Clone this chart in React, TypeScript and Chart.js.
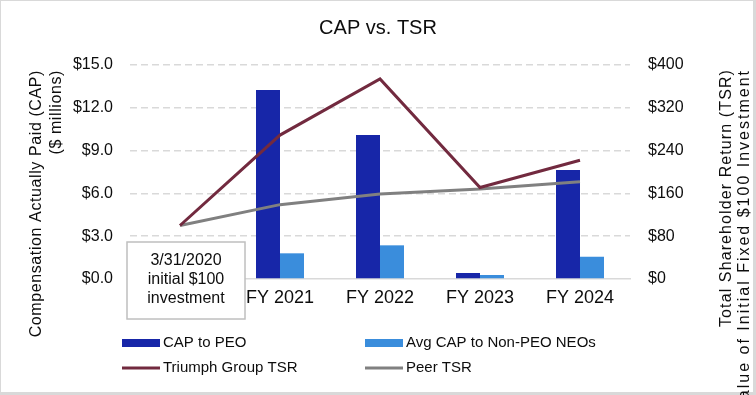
import React, { useEffect, useRef } from "react";
import { Chart, registerables } from "chart.js";

Chart.register(...registerables);

const chartTitle = "CAP vs. TSR";
const categories = ["3/31/2020", "FY 2021", "FY 2022", "FY 2023", "FY 2024"];
const baseLabelLines = ["3/31/2020", "initial $100", "investment"];
const capToPeo = [null, 13.25, 10.1, 0.42, 7.64];
const avgCapNonPeo = [null, 1.8, 2.36, 0.28, 1.56];
const triumphTsr = [100, 269, 374, 171, 222];
const peerTsr = [100, 139, 159, 168, 182];
const leftTitle = ["Compensation Actually Paid (CAP)", "($ millions)"];
const rightTitle = ["Total Shareholder Return (TSR)", "Value of Initial Fixed $100 Investment"];
const leftTicks = { min: 0, max: 15, step: 3 };
const rightTicks = { min: 0, max: 400, step: 80 };

const FONT = "'Liberation Sans', Arial, sans-serif";
const TEXT = "#0d0d0d";

const decor = {
  id: "decor",
  beforeDraw(chart: any) {
    const { ctx, width, height } = chart;
    ctx.save();
    ctx.fillStyle = "#ffffff";
    ctx.fillRect(0, 0, width, height);
    ctx.fillStyle = "#d9d9d9";
    ctx.fillRect(0, 0, width, 1);
    ctx.fillRect(0, 0, 1, height);
    ctx.fillRect(width - 3, 0, 3, height);
    ctx.fillRect(0, height - 3, width, 3);
    ctx.restore();
  },
  afterDraw(chart: any) {
    const { ctx, width } = chart;
    const xs = chart.scales.x;
    const ys = chart.scales.y;
    ctx.save();
    // title
    ctx.fillStyle = TEXT;
    ctx.font = `20px ${FONT}`;
    ctx.textAlign = "center";
    ctx.textBaseline = "middle";
    ctx.fillText(chartTitle, width / 2, 28);

    // axis titles
    ctx.font = `16px ${FONT}`;
    (ctx as any).letterSpacing = "0.6px";
    ctx.textAlign = "right";
    const lx = [37, 57];
    leftTitle.forEach((t, i) => {
      ctx.save();
      ctx.translate(lx[i], 70);
      ctx.rotate(-Math.PI / 2);
      ctx.fillText(t, 0, 0);
      ctx.restore();
    });
    const rx = [727, 745];
    const rSpacing = ["1.1px", "2px"];
    rightTitle.forEach((t, i) => {
      (ctx as any).letterSpacing = rSpacing[i];
      ctx.save();
      ctx.translate(rx[i], 69);
      ctx.rotate(-Math.PI / 2);
      ctx.fillText(t, 0, 0);
      ctx.restore();
    });
    (ctx as any).letterSpacing = "0px";

    // base label box
    const cx = xs.getPixelForValue(0) + 6;
    const y0 = ys.getPixelForValue(0);
    const bx = cx - 59, bw = 118, by = y0 - 37, bh = 77;
    ctx.fillStyle = "#ffffff";
    ctx.fillRect(bx, by, bw, bh);
    ctx.strokeStyle = "#bfbfbf";
    ctx.lineWidth = 1.5;
    ctx.strokeRect(bx, by, bw, bh);
    ctx.fillStyle = TEXT;
    ctx.font = `16px ${FONT}`;
    ctx.textAlign = "center";
    baseLabelLines.forEach((t, i) => {
      ctx.fillText(t, cx, by + 19 + i * 19);
    });

    // legend
    ctx.font = `15px ${FONT}`;
    ctx.textAlign = "left";
    const pos = [
      [122, 343],
      [365, 343],
      [122, 368],
      [365, 368],
    ];
    [0, 1, 2, 3].forEach((di, k) => {
      const ds = chart.data.datasets[di];
      const [px, py] = pos[k];
      if (ds.type === "line") {
        ctx.strokeStyle = ds.borderColor;
        ctx.lineWidth = 3;
        ctx.beginPath();
        ctx.moveTo(px, py);
        ctx.lineTo(px + 38, py);
        ctx.stroke();
      } else {
        ctx.fillStyle = ds.backgroundColor;
        ctx.fillRect(px, py - 4, 38, 8);
      }
      ctx.fillStyle = TEXT;
      ctx.fillText(ds.label, px + 41, py);
    });
    ctx.restore();
  },
};

export default function App() {
  const ref = useRef<HTMLCanvasElement>(null);
  useEffect(() => {
    document.body.style.margin = "0";
    const chart = new Chart(ref.current as HTMLCanvasElement, {
      type: "bar",
      data: {
        labels: categories,
        datasets: [
          {
            type: "bar",
            label: "CAP to PEO",
            data: capToPeo,
            backgroundColor: "#1726a8",
            yAxisID: "y",
            order: 2,
            categoryPercentage: 0.48,
            barPercentage: 1,
          },
          {
            type: "bar",
            label: "Avg CAP to Non-PEO NEOs",
            data: avgCapNonPeo,
            backgroundColor: "#3a8ddc",
            yAxisID: "y",
            order: 2,
            categoryPercentage: 0.48,
            barPercentage: 1,
          },
          {
            type: "line",
            label: "Triumph Group TSR",
            data: triumphTsr,
            borderColor: "#722a3f",
            backgroundColor: "#722a3f",
            borderWidth: 3,
            pointRadius: 0,
            tension: 0,
            yAxisID: "y1",
            order: 0,
          },
          {
            type: "line",
            label: "Peer TSR",
            data: peerTsr,
            borderColor: "#808080",
            backgroundColor: "#808080",
            borderWidth: 3,
            pointRadius: 0,
            tension: 0,
            yAxisID: "y1",
            order: 1,
          },
        ] as any,
      },
      options: {
        responsive: false,
        animation: false,
        devicePixelRatio: 1,
        layout: { padding: { top: 65, left: 0, right: 0, bottom: 0 } },
        plugins: {
          legend: { display: false },
          title: { display: false },
          tooltip: { enabled: false },
        },
        scales: {
          x: {
            type: "category",
            offset: true,
            grid: { display: false, drawTicks: false },
            border: { display: true, color: "#d9d9d9", width: 1.5 },
            ticks: {
              color: TEXT,
              font: { family: FONT, size: 18 },
              padding: 8,
              maxRotation: 0,
              autoSkip: false,
              callback: (_v: any, i: number) => (i === 0 ? "" : categories[i]),
            },
            afterFit: (s: any) => {
              s.height = 116;
            },
          },
          y: {
            position: "left",
            min: leftTicks.min,
            max: leftTicks.max,
            grid: {
              drawTicks: false,
              lineWidth: 1.5,
              color: (c: any) => (c.tick && c.tick.value === 0 ? "rgba(0,0,0,0)" : "#d9d9d9"),
            },
            border: { display: false, dash: [7, 4] },
            ticks: {
              stepSize: leftTicks.step,
              color: TEXT,
              font: { family: FONT, size: 16 },
              padding: 17,
              callback: (v: any) => `$${Number(v).toFixed(1)}`,
            },
            afterFit: (s: any) => {
              s.width = 130;
            },
          },
          y1: {
            position: "right",
            min: rightTicks.min,
            max: rightTicks.max,
            grid: { display: false, drawTicks: false },
            border: { display: false },
            ticks: {
              stepSize: rightTicks.step,
              color: TEXT,
              font: { family: FONT, size: 16 },
              padding: 18,
              callback: (v: any) => `$${v}`,
            },
            afterFit: (s: any) => {
              s.width = 126;
            },
          },
        },
      } as any,
      plugins: [decor],
    });
    return () => chart.destroy();
  }, []);
  return <canvas ref={ref} width={756} height={395} style={{ display: "block" }} />;
}
